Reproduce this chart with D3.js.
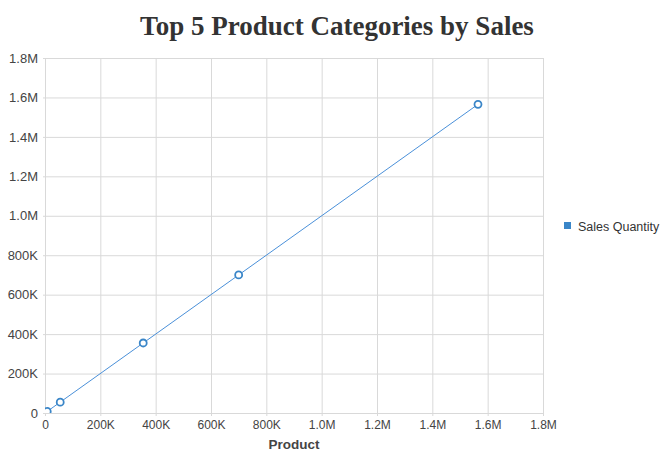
<!DOCTYPE html>
<html><head><meta charset="utf-8">
<script src="https://cdn.jsdelivr.net/npm/d3@7"></script>
<style>body{margin:0;background:#fff}svg{display:block}</style>
</head><body><svg id="c" width="665" height="458"></svg>
<script>
const title = "Top 5 Product Categories by Sales";
const seriesName = "Sales Quantity";
const xLabel = "Product";
const productValues = [8000, 55000, 355000, 700000, 1565000];
const salesQuantity = [8000, 55000, 355000, 700000, 1565000];
const tickValues = [0, 200000, 400000, 600000, 800000, 1000000, 1200000, 1400000, 1600000, 1800000];
const tickLabels = ["0", "200K", "400K", "600K", "800K", "1.0M", "1.2M", "1.4M", "1.6M", "1.8M"];

const svg = d3.select("#c");
const m = {l: 45, r: 122, t: 58, b: 45};
const W = 665, H = 458;
const x = d3.scaleLinear().domain([0, 1800000]).range([m.l, W - m.r]);
const y = d3.scaleLinear().domain([0, 1800000]).range([H - m.b, m.t]);
const fmt = v => tickLabels[tickValues.indexOf(v)];
const grid = "#d9d9d9";

svg.append("text").attr("x", 337).attr("y", 35).attr("text-anchor", "middle")
  .attr("font-family", "Liberation Serif, serif").attr("font-weight", "bold")
  .attr("font-size", 27).attr("fill", "#333").text(title);

const gx = svg.append("g").attr("transform", `translate(0,${H - m.b})`)
  .call(d3.axisBottom(x).tickValues(tickValues).tickFormat(fmt).tickSize(3).tickPadding(4));
const gy = svg.append("g").attr("transform", `translate(${m.l},0)`)
  .call(d3.axisLeft(y).tickValues(tickValues).tickFormat(fmt).tickSize(2).tickPadding(5));
[gx, gy].forEach(g => {
  g.select(".domain").remove();
  g.selectAll("line").attr("stroke", grid);
  g.selectAll("text").attr("font-family", "Liberation Sans, Arial, sans-serif").attr("font-size", 12).attr("fill", "#444");
});
gy.selectAll("text").attr("font-size", 13);

const gg = svg.append("g");
gg.selectAll(".vg").data(tickValues).join("line")
  .attr("x1", d => x(d) + 0.5).attr("x2", d => x(d) + 0.5).attr("y1", m.t).attr("y2", H - m.b)
  .attr("stroke", grid);
gg.selectAll(".hg").data(tickValues).join("line")
  .attr("x1", m.l).attr("x2", W - m.r).attr("y1", d => y(d) + 0.5).attr("y2", d => y(d) + 0.5)
  .attr("stroke", grid);

svg.append("text").attr("x", (m.l + W - m.r) / 2).attr("y", 449).attr("text-anchor", "middle")
  .attr("font-family", "Liberation Sans, Arial, sans-serif").attr("font-weight", "bold")
  .attr("font-size", 13.5).attr("fill", "#444").text(xLabel);

svg.append("clipPath").attr("id", "clip").append("rect")
  .attr("x", m.l).attr("y", m.t - 10).attr("width", W - m.r - m.l + 10).attr("height", H - m.b - m.t + 10);

const data = productValues.map((v, i) => ({x: v, y: salesQuantity[i]}));
const plot = svg.append("g").attr("clip-path", "url(#clip)");
plot.append("path").datum(data)
  .attr("d", d3.line().x(d => x(d.x)).y(d => y(d.y)))
  .attr("fill", "none").attr("stroke", "#4a90d9").attr("stroke-width", 1);
plot.selectAll("circle").data(data).join("circle")
  .attr("cx", d => x(d.x)).attr("cy", d => y(d.y)).attr("r", 3.5)
  .attr("fill", "#fff").attr("stroke", "#3a86c8").attr("stroke-width", 1.8);

const lg = svg.append("g").attr("transform", "translate(564,226)");
lg.append("rect").attr("x", 0).attr("y", -4).attr("width", 7).attr("height", 7).attr("fill", "#3a86c8");
lg.append("text").attr("x", 14).attr("y", 4.5)
  .attr("font-family", "Liberation Sans, Arial, sans-serif").attr("font-size", 12.5).attr("fill", "#333").text(seriesName);
</script></body></html>
